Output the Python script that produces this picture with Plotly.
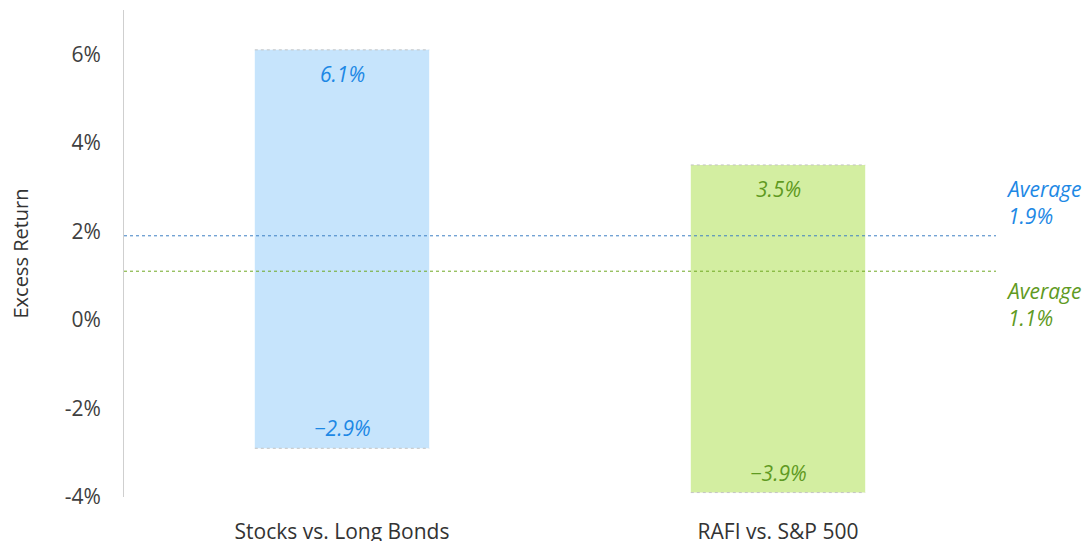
import plotly.graph_objects as go

categories = ["Stocks vs. Long Bonds", "RAFI vs. S&P 500"]
highs = [6.1, 3.5]
lows = [-2.9, -3.9]
averages = [1.9, 1.1]
bar_labels_high = ["6.1%", "3.5%"]
bar_labels_low = ["\u22122.9%", "\u22123.9%"]
avg_labels = ["Average<br>1.9%", "Average<br>1.1%"]
y_ticks = [-4, -2, 0, 2, 4, 6]
y_tick_text = ["-4%", "-2%", "0%", "2%", "4%", "6%"]

fills = ["#C6E4FC", "#D3EEA1"]
text_colors = ["#1D88E5", "#5F9A22"]
line_colors = ["#3D7FC4", "#6FA823"]
FONT = "Open Sans, Noto Sans, sans-serif"
FS = 21

fig = go.Figure()
fig.add_trace(go.Bar(
    x=categories,
    y=[h - l for h, l in zip(highs, lows)],
    base=lows,
    marker=dict(color=fills, line=dict(width=0)),
    width=0.4,
    hoverinfo="skip",
))

shapes = []
annotations = []
for i, cat in enumerate(categories):
    for yv in (highs[i], lows[i]):
        shapes.append(dict(type="line", xref="x", yref="y", x0=i - 0.2, x1=i + 0.2,
                           y0=yv, y1=yv, line=dict(color="#C4C4C4", width=1, dash="dot")))
    annotations.append(dict(x=cat, y=highs[i], xref="x", yref="y", text=bar_labels_high[i],
                            showarrow=False, yanchor="top", yshift=-8,
                            font=dict(family=FONT, size=FS, color=text_colors[i], style="italic")))
    annotations.append(dict(x=cat, y=lows[i], xref="x", yref="y", text=bar_labels_low[i],
                            showarrow=False, yanchor="bottom", yshift=4,
                            font=dict(family=FONT, size=FS, color=text_colors[i], style="italic")))
    shapes.append(dict(type="line", xref="paper", yref="y", x0=0, x1=1,
                       y0=averages[i], y1=averages[i],
                       line=dict(color=line_colors[i], width=1, dash="dot")))

annotations.append(dict(x=1, y=averages[0], xref="paper", yref="y", text=avg_labels[0],
                        showarrow=False, xanchor="left", yanchor="bottom", xshift=8, yshift=4,
                        align="left",
                        font=dict(family=FONT, size=FS, color=text_colors[0], style="italic")))
annotations.append(dict(x=1, y=averages[1], xref="paper", yref="y", text=avg_labels[1],
                        showarrow=False, xanchor="left", yanchor="top", xshift=8, yshift=-4,
                        align="left",
                        font=dict(family=FONT, size=FS, color=text_colors[1], style="italic")))

fig.update_layout(
    width=1086, height=541,
    margin=dict(l=124, r=90, t=10, b=44),
    plot_bgcolor="white", paper_bgcolor="white",
    showlegend=False,
    shapes=shapes,
    annotations=annotations,
    font=dict(family=FONT, size=FS, color="#404040"),
    xaxis=dict(range=[-0.5, 1.5], showgrid=False, showline=False, zeroline=False,
               automargin=False,
               ticks="", ticklabelstandoff=20, tickfont=dict(size=FS, color="#333333")),
    yaxis=dict(range=[-4, 7], tickvals=y_ticks, ticktext=y_tick_text, showgrid=False,
               zeroline=False, showline=True, linecolor="#CFCFCF", linewidth=1,
               automargin=False,
               ticks="", ticklabelstandoff=18,
               title=dict(text="Excess Return", standoff=30, font=dict(size=20, color="#333333")),
               tickfont=dict(size=FS, color="#404040")),
)

fig.write_html("out.html", config={"displayModeBar": False},
               post_script="document.body.style.margin='0';document.body.style.overflow='hidden';")
